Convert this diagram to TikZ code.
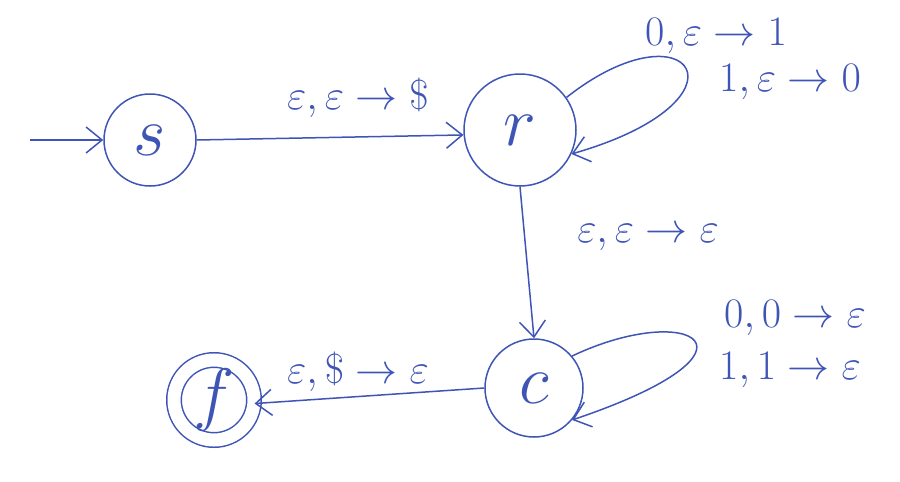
\RequirePackage{fix-cm}
\documentclass[tikz,border=0pt]{standalone}
\usetikzlibrary{arrows.meta}
\definecolor{ink}{HTML}{3F55B5}
\begin{document}
\begin{tikzpicture}[x=1pt,y=-1pt,
  ink/.style={draw=ink, line width=1.5pt},
  state/.style={circle, ink, text=ink, font=\fontsize{70}{74}\selectfont, inner sep=0pt},
  edge/.style={ink, -{Straight Barb[length=16pt,width=26pt,line width=1.5pt]}},
  lbl/.style={text=ink, font=\fontsize{42}{46}\selectfont, inner sep=0pt}]
\useasboundingbox (0,0) rectangle (900,482);
\node[state, minimum size=92pt] (s) at (150,140) {$s$};
\node[state, minimum size=112pt] (r) at (520,130) {$r$};
\node[state, minimum size=98pt] (c) at (534,388) {$c$};
\node[state, minimum size=80pt, double=white, double distance=13pt] (f) at (214,400) {$f$};
\coordinate (start) at (30,140);
\draw[edge] (start) -- (s);
\draw[edge] (s.east) -- (r.185);
\draw[edge] (r.south) -- (c.north);
\draw[edge] (c.west) -- (f.-5);
\draw[edge] (r.35) .. controls (690,0) and (760,100) .. (r.-25);
\draw[edge] (c.40) .. controls (690,300) and (780,350) .. (c.-40);
\node[lbl] (l1) at (358,98) {$\varepsilon,\varepsilon\rightarrow\$$};
\node[lbl] (l2) at (716,36) {$0,\varepsilon\rightarrow1$};
\node[lbl] (l3) at (790,82) {$1,\varepsilon\rightarrow0$};
\node[lbl] (l4) at (648,238) {$\varepsilon,\varepsilon\rightarrow\varepsilon$};
\node[lbl] (l5) at (795,318) {$0,0\rightarrow\varepsilon$};
\node[lbl] (l6) at (790,370) {$1,1\rightarrow\varepsilon$};
\node[lbl] (l7) at (358,372) {$\varepsilon,\$\rightarrow\varepsilon$};
\end{tikzpicture}
\end{document}
